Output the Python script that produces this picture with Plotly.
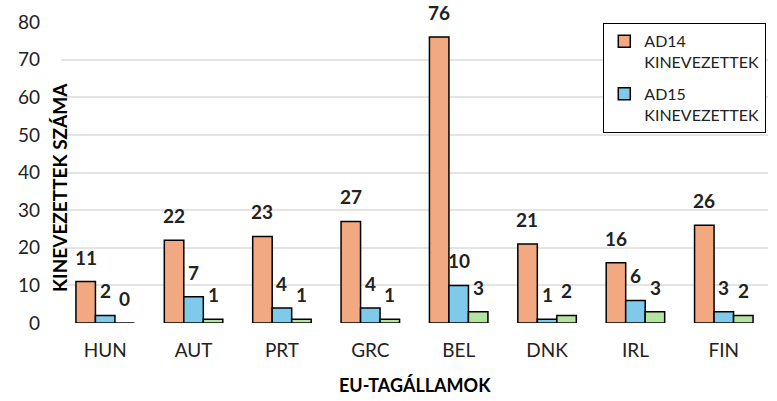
import plotly.graph_objects as go

# EU member states and the number of appointees per grade
countries = ["HUN", "AUT", "PRT", "GRC", "BEL", "DNK", "IRL", "FIN"]
ad14 = [11, 22, 23, 27, 76, 21, 16, 26]
ad15 = [2, 7, 4, 4, 10, 1, 6, 3]
ad16 = [0, 1, 1, 1, 3, 2, 3, 2]

series_names = ["AD14<br>KINEVEZETTEK", "AD15<br>KINEVEZETTEK", "AD16<br>KINEVEZETTEK"]
series_values = [ad14, ad15, ad16]
series_colors = ["#F2A982", "#7FCAEB", "#B5E3A2"]
series_in_legend = [True, True, False]

y_ticks = [0, 10, 20, 30, 40, 50, 60, 70, 80]

FONT = "Lato, 'Open Sans', sans-serif"

fig = go.Figure()
for name, vals, color, show in zip(series_names, series_values, series_colors, series_in_legend):
    fig.add_trace(go.Bar(
        x=countries, y=vals, name=name,
        marker=dict(color=color, line=dict(color="#000000", width=1.5)),
        showlegend=show, legendgroup=name,
    ))

# bold value labels above each bar
n = len(series_values)
for i, vals in enumerate(series_values):
    off = i - (n - 1) / 2
    for c, v in zip(countries, vals):
        fig.add_annotation(
            x=c, y=v, xref="x", yref="y", text=f"<b>{v}</b>", showarrow=False,
            xshift=off * 19.6, yshift=24.5, yanchor="middle", xanchor="center",
            font=dict(family=FONT, size=19, color="#222222"),
        )

L, R, T, B = 61, 9, 22, 78
W, H = 777, 401
pw, ph = W - L - R, H - T - B

# axis titles
fig.add_annotation(
    text="<b>KINEVEZETTEK SZÁMA</b>", textangle=-90, showarrow=False,
    xref="paper", yref="paper", x=(59 - L) / pw, y=(H - B - 188) / ph,
    xanchor="center", yanchor="middle",
    font=dict(family=FONT, size=19, color="#000000"),
)
fig.add_annotation(
    text="<b>EU-TAGÁLLAMOK</b>", showarrow=False,
    xref="paper", yref="paper", x=0.5, y=-(385 - (H - B)) / ph,
    xanchor="center", yanchor="middle",
    font=dict(family=FONT, size=18, color="#000000"),
)

fig.update_layout(
    width=W, height=H,
    margin=dict(l=L, r=R, t=T, b=B, pad=0, autoexpand=False),
    paper_bgcolor="white", plot_bgcolor="white",
    barmode="group", bargap=0.338, bargroupgap=0,
    font=dict(family=FONT, size=18, color="#222222"),
    legend=dict(
        x=(766 - L) / pw, xref="paper", xanchor="right",
        y=(H - B - 23) / ph, yref="paper", yanchor="top",
        bordercolor="#000000", borderwidth=1.3, bgcolor="white",
        font=dict(family=FONT, size=16, color="#222222"),
        tracegroupgap=8, traceorder="grouped", valign="top",
    ),
    xaxis=dict(
        showgrid=False, showline=False, zeroline=False, ticks="",
        ticklabelstandoff=14, tickfont=dict(family=FONT, size=19, color="#222222"),
    ),
    yaxis=dict(
        range=[0, 80], tickvals=y_ticks, showgrid=True, gridcolor="#E4E4E4", gridwidth=1.5,
        zeroline=False, showline=False, ticks="", ticklabelstandoff=20,
        tickfont=dict(family=FONT, size=19, color="#222222"),
    ),
)

fig.write_html("out.html")
